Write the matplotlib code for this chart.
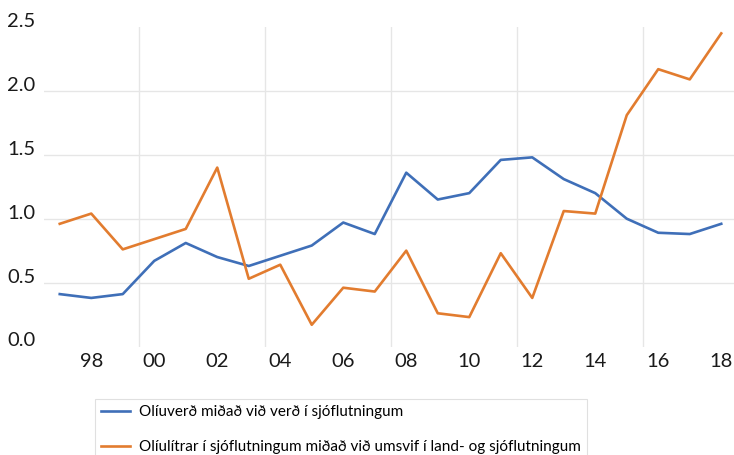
import numpy as np
import matplotlib.pyplot as plt
import matplotlib.transforms as mtransforms

plt.rcParams['font.family'] = ['Lato', 'DejaVu Sans']

years = np.arange(1997, 2019)
oliuverd = [0.41, 0.38, 0.41, 0.67, 0.81, 0.70, 0.63, 0.71, 0.79, 0.97, 0.88,
            1.36, 1.15, 1.20, 1.46, 1.48, 1.31, 1.20, 1.00, 0.89, 0.88, 0.96]
oliulitrar = [0.96, 1.04, 0.76, 0.84, 0.92, 1.40, 0.53, 0.64, 0.17, 0.46, 0.43,
              0.75, 0.26, 0.23, 0.73, 0.38, 1.06, 1.04, 1.81, 2.17, 2.09, 2.45]
labels = ['Olíuverð miðað við verð í sjóflutningum',
          'Olíulítrar í sjóflutningum miðað við umsvif í land- og sjóflutningum']
xtick_years = np.arange(1998, 2019, 2)
yticks = [0.0, 0.5, 1.0, 1.5, 2.0, 2.5]

fig = plt.figure(figsize=(7.34, 4.55), dpi=100)
ax = fig.add_axes([44 / 734, 108.5 / 455, 693 / 734, 319.5 / 455])

grid_c = '#e6e6e6'
for y in yticks[1:-1]:
    ax.axhline(y, color=grid_c, lw=1.0, zorder=0)
for x in np.arange(1999.5, 2018, 4):
    ax.axvline(x, color=grid_c, lw=1.0, zorder=0)

ax.plot(years, oliuverd, color='#3f6fb8', lw=1.9, label=labels[0])
ax.plot(years, oliulitrar, color='#e27c2f', lw=1.9, label=labels[1])

ax.set_xlim(1996.5, 2018.5)
ax.set_ylim(0, 2.5)
ax.set_xticks(xtick_years)
ax.set_xticklabels([f'{y % 100:02d}' for y in xtick_years])
ax.set_yticks(yticks)
ax.set_yticklabels([f'{y:.1f}' for y in yticks])
ax.tick_params(axis='both', length=0, labelsize=14.5, colors='#1a1a1a')
ax.tick_params(axis='y', pad=6)
ax.tick_params(axis='x', pad=5)
for s in ax.spines.values():
    s.set_visible(False)

# y labels sit a little above their gridlines
off = mtransforms.ScaledTranslation(0, 7 / 100, fig.dpi_scale_trans)
for lab in ax.get_yticklabels():
    lab.set_transform(lab.get_transform() + off)

leg = fig.legend(loc='upper left', bbox_to_anchor=(95 / 734, 1 - 399 / 455),
                 borderaxespad=0, fontsize=11, frameon=True, fancybox=False,
                 handlelength=1.9, labelspacing=1.4, borderpad=0.4,
                 handletextpad=0.6)
leg.get_frame().set_edgecolor('#d9d9d9')
leg.get_frame().set_linewidth(0.8)

fig.savefig('out.png', dpi=100)
